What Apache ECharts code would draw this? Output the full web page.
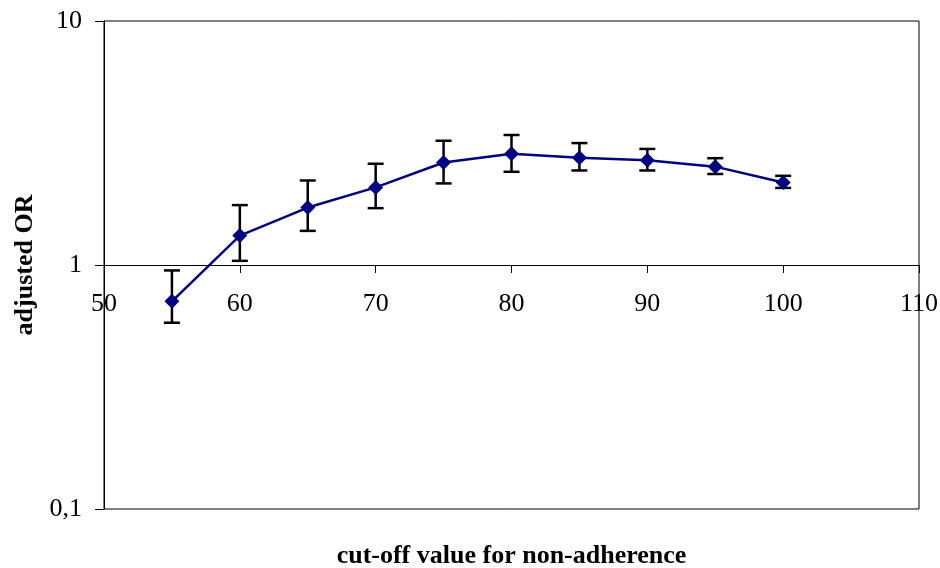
<!DOCTYPE html>
<html>
<head>
<meta charset="utf-8">
<script src="https://cdn.jsdelivr.net/npm/echarts@6/dist/echarts.min.js"></script>
<style>html,body{margin:0;padding:0;background:#fff}#c{width:940px;height:568px}</style>
</head>
<body>
<div id="c"></div>
<script>
var cutoffs = [55, 60, 65, 70, 75, 80, 85, 90, 95, 100];
var orValues = [0.71, 1.32, 1.72, 2.08, 2.63, 2.86, 2.75, 2.69, 2.53, 2.18];
var ciLow = [0.58, 1.04, 1.38, 1.71, 2.16, 2.41, 2.44, 2.44, 2.36, 2.07];
var ciHigh = [0.95, 1.76, 2.22, 2.60, 3.23, 3.41, 3.16, 2.99, 2.74, 2.32];
var xTicks = [50, 60, 70, 80, 90, 100, 110];
var yTicks = [0.1, 1, 10];

var font = '"Liberation Serif", "Times New Roman", serif';
var chart = echarts.init(document.getElementById('c'));
var lineData = cutoffs.map(function (x, i) { return [x, orValues[i]]; });
var errData = cutoffs.map(function (x, i) { return [x, ciLow[i], ciHigh[i]]; });

chart.setOption({
  animation: false,
  grid: { left: 104, right: 21, top: 21, bottom: 59, show: true, borderColor: '#000', borderWidth: 1,
          containLabel: false, outerBoundsMode: 'none' },
  xAxis: [{
    type: 'value', min: xTicks[0], max: xTicks[xTicks.length - 1], interval: 10,
    position: 'bottom', offset: -244,
    axisLine: { show: true, onZero: false, lineStyle: { color: '#000', width: 1 } },
    axisTick: { show: true, length: 8, lineStyle: { color: '#000' } },
    axisLabel: { color: '#000', fontFamily: font, fontSize: 26, margin: 26 },
    splitLine: { show: false }
  }, {
    type: 'value', min: 50, max: 110, position: 'bottom',
    axisLine: { show: false }, axisTick: { show: false }, axisLabel: { show: false }, splitLine: { show: false },
    name: 'cut-off value for non-adherence', nameLocation: 'middle', nameGap: 34,
    nameTextStyle: { color: '#000', fontFamily: font, fontSize: 26, fontWeight: 'bold', verticalAlign: 'top' }
  }],
  yAxis: {
    type: 'log', logBase: 10, min: yTicks[0], max: yTicks[yTicks.length - 1],
    axisLine: { show: true, lineStyle: { color: '#000', width: 1 } },
    axisTick: { show: true, length: 9, lineStyle: { color: '#000' } },
    axisLabel: {
      color: '#000', fontFamily: font, fontSize: 26, margin: 22,
      formatter: function (v) { return String(v).replace('.', ','); }
    },
    splitLine: { show: false },
    minorTick: { show: false },
    name: 'adjusted OR', nameLocation: 'middle', nameGap: 60, nameRotate: 90,
    nameTextStyle: { color: '#000', fontFamily: font, fontSize: 26, fontWeight: 'bold' }
  },
  series: [{
    type: 'custom',
    xAxisIndex: 0,
    z: 1,
    data: errData,
    renderItem: function (params, api) {
      var x = api.value(0);
      var lo = api.coord([x, api.value(1)]);
      var hi = api.coord([x, api.value(2)]);
      var hw = 8;
      var st = { stroke: '#000', lineWidth: 2.5 };
      return {
        type: 'group',
        children: [
          { type: 'line', shape: { x1: lo[0], y1: lo[1], x2: hi[0], y2: hi[1] }, style: st },
          { type: 'line', shape: { x1: lo[0] - hw, y1: lo[1], x2: lo[0] + hw, y2: lo[1] }, style: st },
          { type: 'line', shape: { x1: hi[0] - hw, y1: hi[1], x2: hi[0] + hw, y2: hi[1] }, style: st }
        ]
      };
    }
  }, {
    type: 'line',
    xAxisIndex: 0,
    z: 3,
    data: lineData,
    symbol: 'diamond',
    symbolSize: 15,
    itemStyle: { color: '#000080' },
    lineStyle: { color: '#000080', width: 2.5 }
  }]
});
</script>
</body>
</html>
